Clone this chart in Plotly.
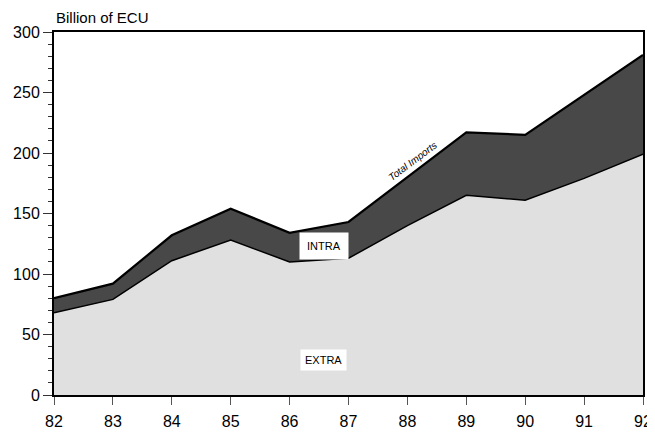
import plotly.graph_objects as go

years = [82, 83, 84, 85, 86, 87, 88, 89, 90, 91, 92]
tick_labels = ["82", "83", "84", "85", "86", "87", "88", "89", "90", "91", "92"]
extra = [68, 79, 111, 128, 110, 113, 140, 165, 161, 179, 199]
total = [80, 92, 132, 154, 134, 143, 180, 217, 215, 248, 281]

FONT = "Liberation Sans Narrow, Liberation Sans, Arial, sans-serif"

fig = go.Figure()
fig.add_trace(go.Scatter(
    x=years, y=extra, mode="lines", fill="tozeroy",
    fillcolor="#e0e0e0", line=dict(color="black", width=1.5),
    name="EXTRA", hoverinfo="skip"))
fig.add_trace(go.Scatter(
    x=years, y=total, mode="lines", fill="tonexty",
    fillcolor="#484848", line=dict(color="black", width=2.2),
    name="Total imports", hoverinfo="skip"))

# page body has an 8px default margin, so the figure is sized to compensate
fig.update_layout(
    width=647, height=429,
    margin=dict(l=46, r=12, t=24, b=42, autoexpand=False),
    paper_bgcolor="white", plot_bgcolor="white",
    showlegend=False,
    font=dict(family=FONT, color="black", size=16),
)
fig.update_xaxes(
    range=[82, 92], tickvals=years, ticktext=tick_labels,
    showline=True, linecolor="black", linewidth=2, mirror=True,
    ticks="outside", ticklen=8, tickwidth=1, tickcolor="#555",
    ticklabelstandoff=3,
    showgrid=False, zeroline=False, automargin=False,
    tickfont=dict(family=FONT, size=16, color="black"),
)
fig.update_yaxes(
    range=[0, 300], tickvals=[0, 50, 100, 150, 200, 250, 300],
    showline=True, linecolor="black", linewidth=2, mirror=True,
    ticks="outside", ticklen=9, tickwidth=1, tickcolor="#333",
    minor=dict(dtick=10, ticks="outside", ticklen=4, tickwidth=1, tickcolor="#333"),
    showgrid=False, zeroline=False, automargin=False,
    tickfont=dict(family=FONT, size=16, color="black"),
)

fig.add_annotation(
    text="Billion of ECU", xref="paper", yref="paper",
    x=0.002, y=1 + 24 / 363, xanchor="left", yanchor="top", showarrow=False,
    borderpad=0,
    font=dict(family=FONT, size=15, color="black"))
fig.add_annotation(
    text="INTRA", x=86.58, y=123, showarrow=False,
    bgcolor="white", borderpad=7,
    font=dict(family=FONT, size=11, color="black"))
fig.add_annotation(
    text="EXTRA", x=86.58, y=29, showarrow=False,
    bgcolor="white", borderpad=4,
    font=dict(family=FONT, size=11, color="black"))
fig.add_annotation(
    text="<i>Total Imports</i>", x=88.08, y=193, showarrow=False,
    textangle=-37,
    font=dict(family=FONT, size=10, color="black"))

fig.write_html("out.html")
